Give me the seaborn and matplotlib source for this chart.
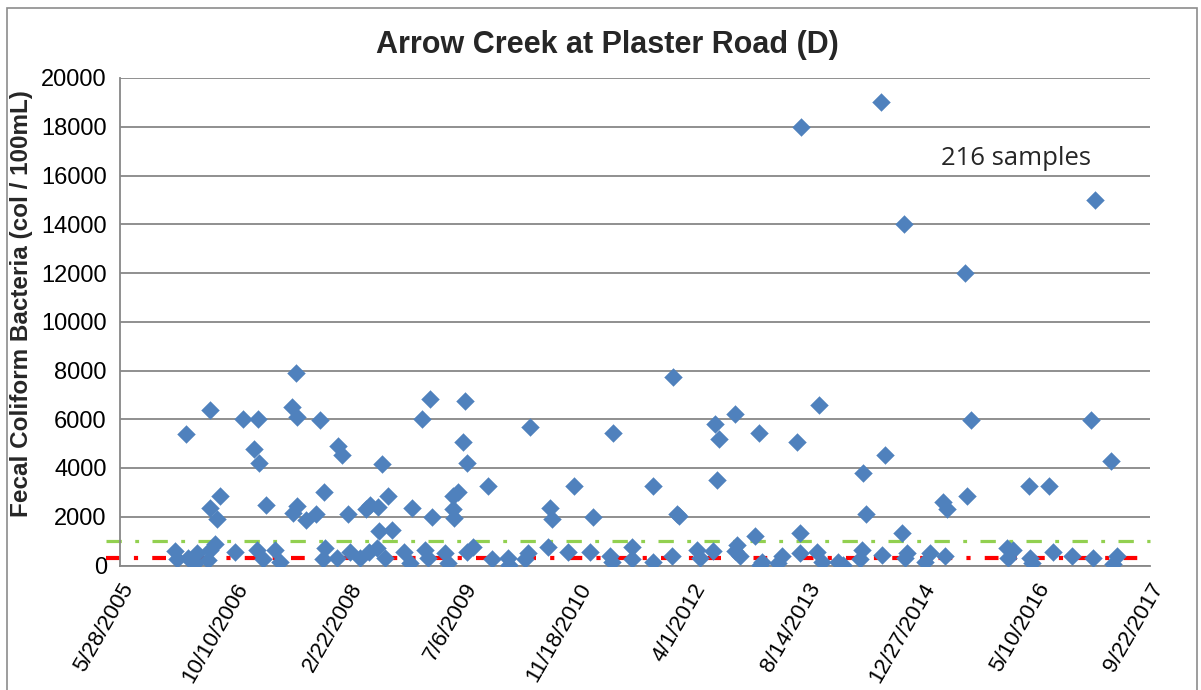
import matplotlib
matplotlib.use("Agg")
import matplotlib.pyplot as plt
import matplotlib.dates as mdates
from matplotlib.ticker import FuncFormatter, MultipleLocator
from matplotlib.patches import Rectangle
import pandas as pd
import seaborn as sns

# Sampling dates and fecal coliform results (col / 100mL)
sample_dates = [
    "2006-01-23", "2006-01-31", "2006-03-12", "2006-03-22", "2006-04-21", "2006-04-28",
    "2006-06-18", "2006-06-24", "2006-06-27", "2006-06-27", "2006-07-17", "2006-07-24",
    "2006-08-08", "2006-10-12", "2006-11-15", "2007-01-05", "2007-01-15", "2007-01-22",
    "2007-01-24", "2007-02-13", "2007-02-25", "2007-04-05", "2007-04-27", "2007-06-17",
    "2007-06-24", "2007-07-06", "2007-07-09", "2007-07-12", "2007-08-19", "2007-10-01",
    "2007-10-19", "2007-11-02", "2007-11-07", "2007-11-10", "2007-12-31", "2008-01-04",
    "2008-01-24", "2008-02-20", "2008-02-27", "2008-04-11", "2008-05-08", "2008-05-25",
    "2008-06-29", "2008-05-18", "2008-06-24", "2008-07-01", "2008-07-16", "2008-07-30",
    "2008-08-13", "2008-08-28", "2008-10-18", "2008-11-16", "2008-11-25", "2009-01-05",
    "2009-01-20", "2009-02-03", "2009-02-10", "2009-02-18", "2009-04-17", "2009-05-01",
    "2009-05-21", "2009-06-12", "2009-05-24", "2009-05-26", "2009-07-03", "2009-07-13",
    "2009-07-21", "2009-07-22", "2009-08-19", "2009-10-22", "2009-11-07", "2010-01-19",
    "2010-01-20", "2010-04-02", "2010-04-16", "2010-04-24", "2010-07-13", "2010-07-20",
    "2010-07-27", "2010-10-08", "2010-11-02", "2011-01-11", "2011-01-25", "2011-04-08",
    "2011-04-15", "2011-04-22", "2011-07-12", "2011-07-13", "2011-10-13", "2011-10-14",
    "2012-01-03", "2012-01-10", "2012-01-25", "2012-02-03", "2012-04-21", "2012-05-06",
    "2012-07-02", "2012-07-10", "2012-07-20", "2012-07-29", "2012-10-06", "2012-10-13",
    "2012-10-05", "2012-10-27", "2013-01-01", "2013-01-19", "2013-01-22", "2013-01-30",
    "2013-04-12", "2013-04-27", "2013-07-02", "2013-07-16", "2013-07-17", "2013-07-21",
    "2013-09-27", "2013-10-09", "2013-10-19", "2013-12-31", "2014-01-21", "2014-04-04",
    "2014-04-11", "2014-04-18", "2014-05-01", "2014-07-05", "2014-07-08", "2014-07-23",
    "2014-10-04", "2014-10-14", "2014-10-18", "2014-10-26", "2015-01-13", "2015-02-04",
    "2015-04-01", "2015-04-11", "2015-04-18", "2015-07-07", "2015-07-15", "2015-08-01",
    "2016-01-05", "2016-01-12", "2016-02-03", "2016-04-12", "2016-04-16", "2016-04-24",
    "2016-07-09", "2016-07-26", "2016-10-15", "2017-01-06", "2017-01-18", "2017-01-25",
    "2017-04-04", "2017-04-15", "2017-04-30",
]
fecal_coliform = [
    600, 250, 5400, 300, 100, 500,
    230, 6400, 2350, 650, 900, 1900,
    2850, 550, 6000, 4800, 650, 6000,
    4200, 250, 2500, 650, 150, 6500,
    2150, 7900, 6100, 2450, 1850, 2100,
    5950, 250, 3000, 700, 300, 4900,
    4550, 2100, 550, 300, 2300, 2500,
    2400, 550, 700, 1400, 4150, 300,
    2850, 1450, 550, 100, 2350, 6000,
    650, 300, 6850, 2000, 500, 100,
    2850, 3000, 2300, 1950, 5050, 6750,
    4200, 550, 750, 3250, 250, 300,
    30, 250, 500, 5700, 750, 2350,
    1900, 550, 3250, 550, 2000, 400,
    150, 5450, 750, 250, 150, 3250,
    400, 7750, 2100, 2050, 650, 300,
    600, 5800, 3500, 5200, 6200, 850,
    600, 400, 1200, 5450, 30, 150,
    100, 400, 5050, 1350, 500, 18000,
    550, 6600, 150, 150, 30, 250,
    650, 3800, 2100, 19000, 450, 4550,
    1350, 14000, 300, 500, 150, 500,
    2600, 400, 2300, 12000, 2850, 5950,
    700, 300, 650, 3250, 300, 100,
    3250, 550, 400, 5950, 300, 15000,
    4300, 50, 400,
]

# Reference standards drawn across the sampling period
standard_span = ["2005-03-27", "2017-09-22"]
upper_standard = [1000, 1000]
lower_standard = [300, 300]

axis_start = "2005-05-28"
axis_end = "2017-09-22"
tick_step_days = 500

title_text = "Arrow Creek at Plaster Road (D)"
y_label = "Fecal Coliform Bacteria (col / 100mL)"
count_label = "216 samples"

df = pd.DataFrame({"date": pd.to_datetime(sample_dates), "value": fecal_coliform})

sns.set_style("white")
narrow = ["Liberation Sans Narrow", "Liberation Sans", "DejaVu Sans"]
plt.rcParams["font.family"] = ["Liberation Sans", "DejaVu Sans"]

fig = plt.figure(figsize=(12.01, 6.90), dpi=100)
ax = fig.add_axes([120 / 1201, 1 - 565.5 / 690, 1030 / 1201, (565.5 - 78) / 690])

grid_gray = "#878787"
ax.yaxis.grid(True, color=grid_gray, linewidth=1.3)
ax.set_axisbelow(True)

span = pd.to_datetime(standard_span)
ax.plot(span, upper_standard, color="#92D050", linewidth=2.3,
        dashes=(4.8, 4.2, 1.2, 4.2), clip_on=False, zorder=2)
ax.plot(span, lower_standard, color="#FF0000", linewidth=3.0,
        dashes=(3.3, 3.4, 1.0, 3.4), clip_on=False, zorder=2)

sns.scatterplot(data=df, x="date", y="value", marker="D", s=82,
                color="#4F81BD", edgecolor="#4F81BD", linewidth=0.3,
                ax=ax, zorder=3, legend=False)

start = pd.Timestamp(axis_start)
end = pd.Timestamp(axis_end)
ax.set_xlim(start, end)
ticks = pd.date_range(start, end, freq=f"{tick_step_days}D")
ax.set_xticks(ticks)


def date_label(x, pos):
    d = mdates.num2date(x)
    return f"{d.month}/{d.day}/{d.year}"


ax.xaxis.set_major_formatter(FuncFormatter(date_label))
ax.set_ylim(0, 20000)
ax.yaxis.set_major_locator(MultipleLocator(2000))

for side in ("top", "right"):
    ax.spines[side].set_visible(False)
for side in ("left", "bottom"):
    ax.spines[side].set_color(grid_gray)
    ax.spines[side].set_linewidth(1.3)

ax.tick_params(axis="both", which="major", direction="out", length=7,
               width=1.3, color=grid_gray, labelcolor="black")
ax.tick_params(axis="y", labelsize=17, pad=2.5)
ax.tick_params(axis="x", labelsize=16, pad=3)
plt.setp(ax.get_xticklabels(), rotation=60, ha="right", va="top",
         rotation_mode="anchor")
ax.set_xlabel("")
ax.set_ylabel("")

fig.text(607 / 1201, 1 - 45 / 690, title_text, ha="center", va="center",
         fontsize=22, fontweight="bold", family=narrow)
fig.text(22 / 1201, 1 - 304 / 690, y_label, ha="center", va="center",
         rotation=90, fontsize=17.5, fontweight="bold", family=narrow)
ax.text(pd.Timestamp("2016-02-15"), 16700, count_label, ha="center", va="center",
        fontsize=18.5, family=["Open Sans", "DejaVu Sans"])

# Chart frame
fig.patches.append(Rectangle((7 / 1201, -0.05), 1190 / 1201, 1.05 - 8 / 690,
                             transform=fig.transFigure, fill=False,
                             edgecolor="#8c8c8c", linewidth=1.2))

fig.savefig("out.png", dpi=100, facecolor="white")
